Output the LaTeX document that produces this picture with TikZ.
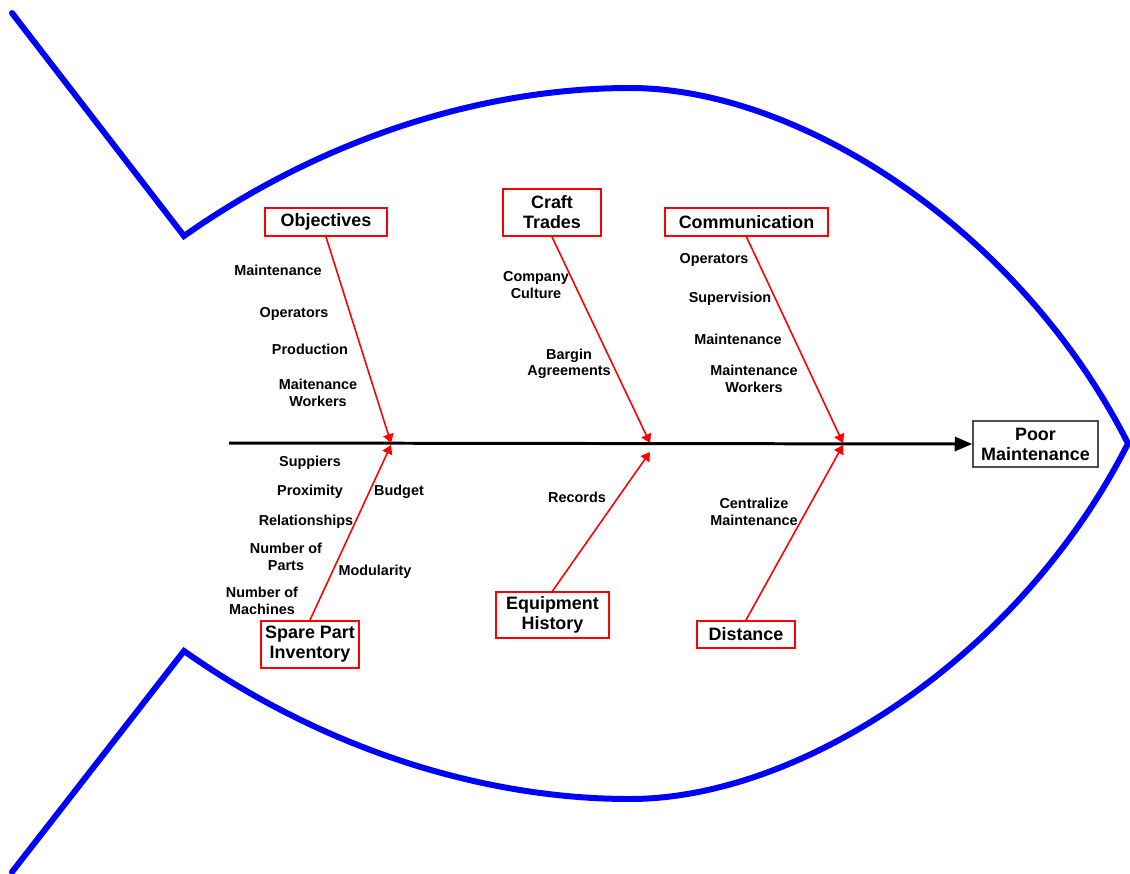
\documentclass[tikz,border=0pt]{standalone}
\usepackage{fontspec}
\setmainfont{Liberation Sans}
\usetikzlibrary{arrows.meta}

\tikzset{
    cause/.style 2 args={draw=red, line width=1.1pt, fill=white, align=center, inner sep=0pt,
        minimum width=#1, minimum height=#2, font=\bfseries\fontsize{10.2}{11.4}\selectfont},
    effect/.style={draw=black!70, line width=0.8pt, fill=white, align=center, inner sep=0pt,
        minimum width=2.5cm, minimum height=0.92cm, font=\bfseries\fontsize{10.2}{11.4}\selectfont},
    sublabel/.style={align=center, inner sep=0pt, font=\bfseries\fontsize{8.2}{9.3}\selectfont},
    bone/.style={red, line width=0.9pt, -{Triangle[length=5pt,width=6pt]}},
    spine/.style={black, line width=1.7pt, -{Triangle[length=10pt,width=8pt]}},
    fish/.style={blue, line width=3.4pt, line cap=round},
}

\begin{document}
\begin{tikzpicture}[x=0.02cm, y=-0.02cm]
        \useasboundingbox (0,0) rectangle (1130,873);
        \draw[fish] (12,13) -- (184,236) .. controls (320,140) and (480,88) .. (630,88)
            .. controls (800,88) and (1020,230) .. (1128,443.5)
            .. controls (1020,657) and (800,799) .. (630,799)
            .. controls (480,799) and (320,747) .. (184,651) -- (12,872);

        \node[effect] (poor) at (1035.5,444) {Poor\\Maintenance};
        \coordinate (tail) at (229,443);
        \draw[spine] (tail) -- (poor.west);

        \node[cause={2.44cm}{0.56cm}] (obj) at (326,222) {Objectives};
        \node[cause={1.96cm}{0.94cm}] (craft) at (552,212.5) {Craft\\Trades};
        \node[cause={3.26cm}{0.56cm}] (comm) at (746.5,222) {Communication};
        \node[cause={1.96cm}{0.94cm}] (spare) at (310,644.5) {Spare Part\\Inventory};
        \node[cause={2.26cm}{0.92cm}] (equip) at (552.5,615) {Equipment\\History};
        \node[cause={1.96cm}{0.54cm}] (dist) at (746,634.5) {Distance};

        \coordinate (objend) at (391,443);
        \coordinate (craftend) at (650,443);
        \coordinate (commend) at (843,443);
        \coordinate (spareend) at (391,445);
        \coordinate (equipend) at (650,452);
        \coordinate (distend) at (843,445);

        \draw[bone] (obj.south) -- (objend);
        \draw[bone] (craft.south) -- (craftend);
        \draw[bone] (comm.south) -- (commend);
        \draw[bone] (spare.north) -- (spareend);
        \draw[bone] (equip.north) -- (equipend);
        \draw[bone] (dist.north) -- (distend);

        \node[sublabel] (obja) at (278,270) {Maintenance};
        \node[sublabel] (objb) at (294,314) {Operators};
        \node[sublabel] (objc) at (310,349) {Production};
        \node[sublabel] (objd) at (318,393) {Maitenance\\Workers};

        \node[sublabel] (crafta) at (536,285) {Company\\Culture};
        \node[sublabel] (craftb) at (569,364) {Bargin\\Agreements};

        \node[sublabel] (comma) at (714,260) {Operators};
        \node[sublabel] (commb) at (730,299) {Supervision};
        \node[sublabel] (commc) at (738,339) {Maintenance};
        \node[sublabel] (commd) at (754,379) {Maintenance\\Workers};

        \node[sublabel] (sparea) at (310,463) {Suppiers};
        \node[sublabel] (spareb) at (310,492) {Proximity};
        \node[sublabel] (sparec) at (399,492) {Budget};
        \node[sublabel] (spared) at (306,522) {Relationships};
        \node[sublabel] (sparee) at (286,557) {Number of\\Parts};
        \node[sublabel] (sparef) at (375,572) {Modularity};
        \node[sublabel] (spareg) at (262,601) {Number of\\Machines};

        \node[sublabel] (equipa) at (577,497) {Records};

        \node[sublabel] (dista) at (754,512) {Centralize\\Maintenance};
    \end{tikzpicture}
\end{document}
